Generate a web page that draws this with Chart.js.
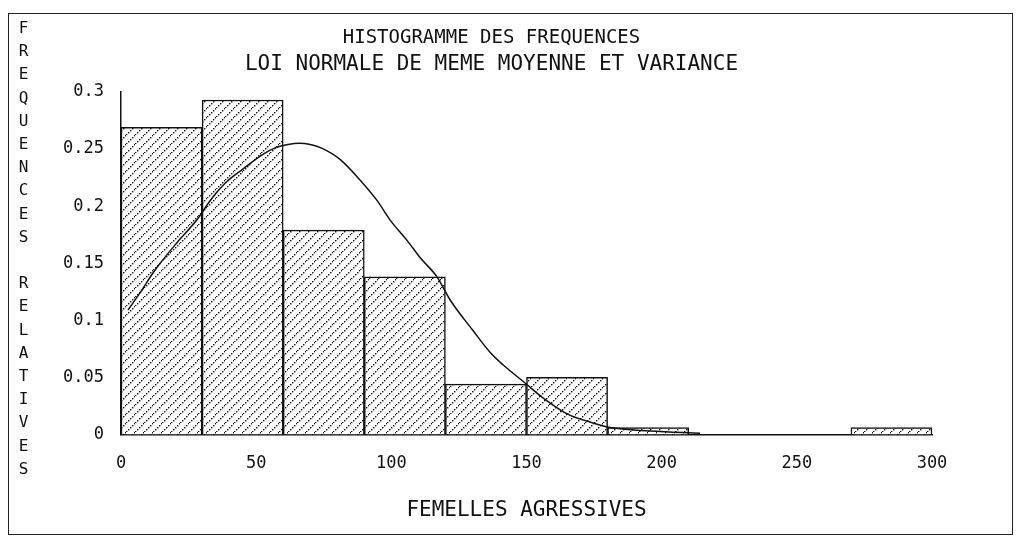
<!DOCTYPE html>
<html>
<head>
<meta charset="utf-8">
<script src="https://cdn.jsdelivr.net/npm/chart.js@4"></script>
<style>
  body { margin: 0; background: #fff; }
  #wrap { position: relative; width: 1023px; height: 544px; }
  #frame { position: absolute; left: 8px; top: 13px; width: 1003px; height: 520px; border: 1.5px solid #222; pointer-events: none; }
  #ytitle { position: absolute; left: 14px; top: 18px; writing-mode: vertical-rl; text-orientation: upright;
            font: 16px 'DejaVu Sans Mono'; letter-spacing: 4.2px; color: #111; }
</style>
</head>
<body>
<div id="wrap">
  <canvas id="histo" width="1023" height="544"></canvas>
  <div id="frame"></div>
  <div id="ytitle">FREQUENCES RELATIVES</div>
</div>
<script>
// classes de 30 (debut de classe)
const binStarts = [0, 30, 60, 90, 120, 150, 180, 210, 240, 270];
const binWidth = 30;
// frequences relatives
const freqs = [0.269, 0.293, 0.179, 0.138, 0.044, 0.05, 0.006, 0, 0, 0.006];

// loi normale, points
const curveX = [2.6, 7, 12.6, 20.7, 28.1, 33, 38.5, 44.8, 52.2, 57, 61.8, 66, 70, 74, 81, 88.4, 94.7,
                99.5, 105.8, 110.6, 116.9, 121.7, 130.2, 136.5, 141.3, 149.5, 156.1, 165, 174.6, 180.9, 195.7, 214.2];
const curveY = [0.109, 0.124, 0.144, 0.168, 0.188, 0.205, 0.22, 0.232, 0.245, 0.251, 0.254, 0.255, 0.254, 0.251, 0.241, 0.223, 0.205,
                0.188, 0.17, 0.155, 0.138, 0.118, 0.091, 0.072, 0.061, 0.045, 0.032, 0.018, 0.01, 0.006, 0.003, 0.001];

const yTicks = [0, 0.05, 0.1, 0.15, 0.2, 0.25, 0.3];

// hachures en pointilles
function makeHatch() {
    const c = document.createElement('canvas');
    c.width = 9;
    c.height = 9;
    const g = c.getContext('2d');
    g.fillStyle = '#fff';
    g.fillRect(0, 0, 9, 9);
    g.fillStyle = '#111';
    for (let i = 0; i < 9; i += 2) {
        g.fillRect(i, 8 - i, 1.4, 1.4);
    }
    return g.createPattern(c, 'repeat');
}

const barData = binStarts.map((s, i) => ({ x: s + binWidth / 2, y: freqs[i] }));
const curveData = curveX.map((x, i) => ({ x: x, y: curveY[i] }));

const font = 'DejaVu Sans Mono';

var ctx = document.getElementById('histo').getContext('2d');
var chart = new Chart(ctx, {
    data: {
        datasets: [{
            type: 'line',
            data: curveData,
            borderColor: '#111',
            borderWidth: 1.5,
            pointRadius: 0,
            cubicInterpolationMode: 'monotone',
            order: 0
        }, {
            type: 'bar',
            data: barData,
            backgroundColor: makeHatch(),
            borderColor: '#111',
            borderWidth: 1.5,
            barPercentage: 1,
            categoryPercentage: 1,
            order: 1
        }]
    },
    options: {
        responsive: false,
        animation: false,
        layout: { padding: { left: 51, right: 91, top: 13, bottom: 21 } },
        plugins: {
            legend: { display: false },
            tooltip: { enabled: false },
            title: {
                display: true,
                text: 'HISTOGRAMME DES FREQUENCES',
                color: '#111',
                font: { family: font, size: 19, weight: 'normal' },
                padding: { top: 14, bottom: 2 }
            },
            subtitle: {
                display: true,
                text: 'LOI NORMALE DE MEME MOYENNE ET VARIANCE',
                color: '#111',
                font: { family: font, size: 21 },
                padding: { top: 0, bottom: 15 }
            }
        },
        scales: {
            x: {
                type: 'linear',
                min: 0,
                max: 300,
                offset: false,
                grid: { display: false },
                border: { display: true, color: '#111', width: 1.5 },
                ticks: { stepSize: 50, padding: 11, color: '#111', font: { family: font, size: 17 } },
                title: {
                    display: true,
                    text: 'FEMELLES AGRESSIVES',
                    color: '#111',
                    font: { family: font, size: 21 },
                    padding: { top: 13, bottom: 0 }
                }
            },
            y: {
                min: 0,
                max: 0.3,
                afterFit: function (scale) { scale.width = 70; },
                afterBuildTicks: function (scale) { scale.ticks = yTicks.map(v => ({ value: v })); },
                grid: { display: false },
                border: { display: true, color: '#111', width: 1.5 },
                ticks: {
                    padding: 9,
                    color: '#111',
                    font: { family: font, size: 17 },
                    callback: function (value) { return String(+value.toFixed(2)); }
                }
            }
        }
    }
});
</script>
</body>
</html>
